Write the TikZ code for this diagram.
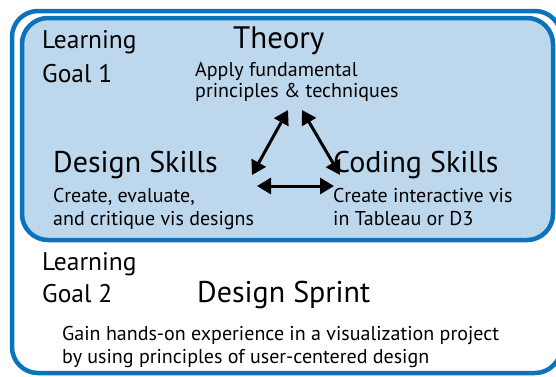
\documentclass[tikz,border=0pt]{standalone}
\usepackage{fontspec}
\setmainfont{PT Sans}
\usetikzlibrary{arrows.meta}
\definecolor{bord}{HTML}{0B72BC}
\definecolor{fillb}{HTML}{BDD8EC}
\tikzset{
  frame/.style={draw=bord, line width=4.5pt, rounded corners=26pt},
  goal/.style={anchor=base west, inner sep=0pt, font=\fontsize{25.5}{28}\selectfont},
  title/.style={anchor=base west, inner sep=0pt, font=\fontsize{30}{34}\selectfont},
  desc/.style={anchor=base west, inner sep=0pt, font=\fontsize{20}{22}\selectfont},
  twoway/.style={line width=3pt, {Triangle[length=14pt,width=16pt]}-{Triangle[length=14pt,width=16pt]}}
}
\begin{document}
\begin{tikzpicture}[x=1pt,y=-1pt]
\useasboundingbox (0,0) rectangle (556,376);
\begin{scope}
\clip (0,0) rectangle (556,376);
\draw[frame] (12,11) rectangle (561,373);
\draw[frame, fill=fillb] (22,18) rectangle (553,240);
\end{scope}
\node[goal] (lg1a) at (42,48) {Learning};
\node[goal] (lg1b) at (42,82) {Goal 1};
\node[title, font=\fontsize{31}{34}\selectfont] (theory) at (233,48) {Theory};
\node[desc] (th1) at (195,76) {Apply fundamental};
\node[desc] (th2) at (195,97) {principles \& techniques};
\node[title] (design) at (53,172) {Design Skills};
\node[desc] (ds1) at (53,202) {Create, evaluate,};
\node[desc] (ds2) at (53,225) {and critique vis designs};
\node[title] (coding) at (333,172) {Coding Skills};
\node[desc] (cs1) at (333,202) {Create interactive vis};
\node[desc] (cs2) at (333,225) {in Tableau or D3};
\node[goal] (lg2a) at (42,270) {Learning};
\node[goal] (lg2b) at (42,302) {Goal 2};
\node[title] (sprint) at (197,302) {Design Sprint};
\node[desc] (sp1) at (62,340) {Gain hands-on experience in a visualization project};
\node[desc] (sp2) at (62,363) {by using principles of user-centered design};
\coordinate (tl) at (288,110);
\coordinate (tr) at (302,110);
\coordinate (dl) at (252,175);
\coordinate (cr) at (340,175);
\coordinate (bl) at (257,186);
\coordinate (br) at (334,186);
\draw[twoway] (tl) -- (dl);
\draw[twoway] (tr) -- (cr);
\draw[twoway] (bl) -- (br);
\end{tikzpicture}
\end{document}
